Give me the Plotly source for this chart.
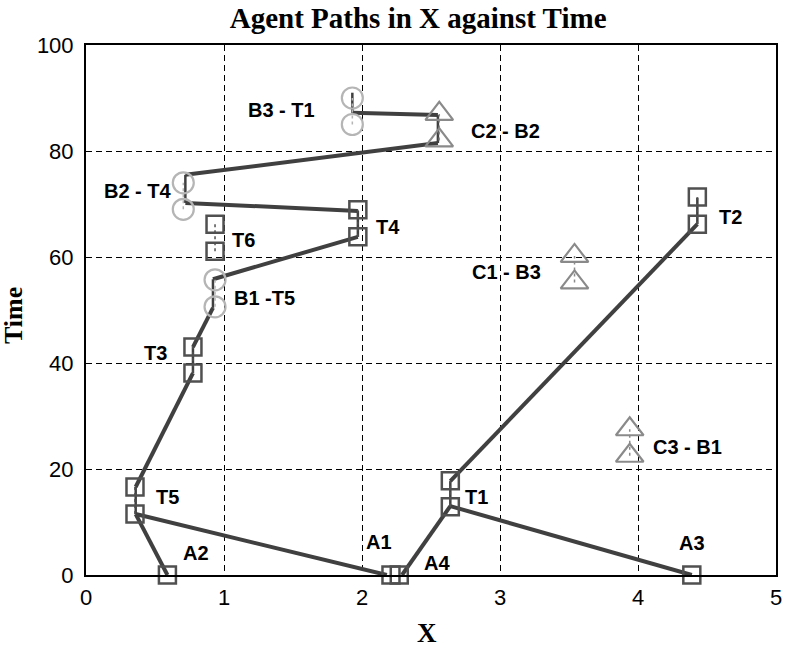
import plotly.graph_objects as go

# ---- depots (start points at time 0) ----
depot_names = ["A1", "A2", "A3", "A4"]
depot_x = [2.21, 0.59, 4.39, 2.27]
depot_t = [0.0, 0.0, 0.0, 0.0]

# ---- task sites: position and [open, close] time window ----
task_names = ["T1", "T2", "T3", "T4", "T5", "T6"]
task_x = [2.64, 4.43, 0.775, 1.97, 0.355, 0.935]
task_open = [12.9, 66.2, 38.1, 63.8, 11.5, 61.1]
task_close = [17.8, 71.3, 43.0, 68.9, 16.6, 66.2]

# ---- B sites (circles) ----
b_names = ["B1 -T5", "B2 - T4", "B3 - T1"]
b_x = [0.935, 0.705, 1.93]
b_open = [50.6, 69.0, 85.0]
b_close = [55.7, 74.0, 90.0]

# ---- C sites (triangles) ----
c_names = ["C1 - B3", "C2 - B2", "C3 - B1"]
c_x = [3.54, 2.56, 3.94]
c_open = [55.2, 82.0, 22.5]
c_close = [60.2, 87.0, 27.5]

# ---- agent paths (x, time) ----
path_a_x = [0.59, 0.36]
path_a_t = [0.0, 11.5]
path_b_x = [2.18, 0.36, 0.36, 0.775, 0.775, 0.92, 0.92, 1.97, 1.97, 0.72, 0.72, 2.55, 2.55, 1.93, 1.93]
path_b_t = [0.0, 11.5, 16.6, 38.1, 43.0, 50.4, 55.8, 63.8, 68.7, 70.2, 75.5, 81.5, 86.8, 87.2, 91.0]
path_c_x = [2.29, 2.64, 2.64, 4.43, 4.43]
path_c_t = [0.0, 13.0, 17.7, 66.2, 71.2]
path_d_x = [4.39, 2.64]
path_d_t = [0.0, 13.0]

# ---- text label anchors ----
label_text = ["A1", "A2", "A3", "A4",
              "T1", "T2", "T3", "T4", "T5", "T6",
              "B1 -T5", "B2 - T4", "B3 - T1",
              "C1 - B3", "C2 - B2", "C3 - B1"]
label_x = [2.12, 0.80, 4.39, 2.54,
           2.83, 4.67, 0.50, 2.19, 0.59, 1.14,
           1.29, 0.38, 1.42,
           3.05, 3.04, 4.36]
label_t = [6.2, 4.2, 6.0, 2.3,
           14.7, 67.5, 41.9, 65.7, 14.7, 63.2,
           52.3, 72.5, 87.7,
           57.2, 83.8, 24.2]

PATH_COLOR = "#404040"
SQUARE_COLOR = "#505050"
CIRCLE_COLOR = "#b5b5b5"
TRIANGLE_COLOR = "#8a8a8a"

fig = go.Figure()


def split_segments(xs, ts):
    """Split a path into travel segments and waiting (vertical) segments."""
    mx, mt, wx, wt = [], [], [], []
    for i in range(len(xs) - 1):
        seg_x = [xs[i], xs[i + 1], None]
        seg_t = [ts[i], ts[i + 1], None]
        if xs[i] == xs[i + 1]:
            wx += seg_x
            wt += seg_t
        else:
            mx += seg_x
            mt += seg_t
    return mx, mt, wx, wt


for px, pt in [(path_a_x, path_a_t), (path_b_x, path_b_t),
               (path_c_x, path_c_t), (path_d_x, path_d_t)]:
    mx, mt, wx, wt = split_segments(px, pt)
    if wx:
        fig.add_trace(go.Scatter(x=wx, y=wt, mode="lines",
                                 line=dict(color=PATH_COLOR, width=2.5),
                                 showlegend=False, hoverinfo="skip", cliponaxis=False))
    fig.add_trace(go.Scatter(x=mx, y=mt, mode="lines",
                             line=dict(color=PATH_COLOR, width=4),
                             showlegend=False, hoverinfo="skip", cliponaxis=False))


def window_lines(xs, t0, t1):
    lx, lt = [], []
    for x, a, b in zip(xs, t0, t1):
        lx += [x, x, None]
        lt += [a, b, None]
    return lx, lt


for xs, t0, t1, col in [(task_x, task_open, task_close, SQUARE_COLOR),
                        (b_x, b_open, b_close, CIRCLE_COLOR),
                        (c_x, c_open, c_close, TRIANGLE_COLOR)]:
    lx, lt = window_lines(xs, t0, t1)
    fig.add_trace(go.Scatter(x=lx, y=lt, mode="lines",
                             line=dict(color=col, width=1.5, dash="dot"),
                             showlegend=False, hoverinfo="skip"))

# square markers: depots and task windows
sq_x = depot_x + task_x + task_x
sq_t = depot_t + task_open + task_close
fig.add_trace(go.Scatter(x=sq_x, y=sq_t, mode="markers", cliponaxis=False,
                         marker=dict(symbol="square-open", size=17,
                                     line=dict(color=SQUARE_COLOR, width=2.5),
                                     color=SQUARE_COLOR),
                         showlegend=False))

fig.add_trace(go.Scatter(x=b_x + b_x, y=b_open + b_close, mode="markers",
                         marker=dict(symbol="circle-open", size=21,
                                     line=dict(color=CIRCLE_COLOR, width=2.2),
                                     color=CIRCLE_COLOR),
                         showlegend=False))

fig.add_trace(go.Scatter(x=c_x + c_x, y=c_open + c_close, mode="markers",
                         marker=dict(symbol="triangle-up-open", size=24,
                                     line=dict(color=TRIANGLE_COLOR, width=2.2),
                                     color=TRIANGLE_COLOR),
                         showlegend=False))

for txt, x, t in zip(label_text, label_x, label_t):
    fig.add_annotation(x=x, y=t, xref="x", yref="y", text=txt, showarrow=False,
                       font=dict(family="Liberation Sans", size=20, color="black",
                                 weight="bold"))

# axis titles
fig.add_annotation(x=0.494, y=-0.109, xref="paper", yref="paper", text="X",
                   showarrow=False, xanchor="center", yanchor="middle",
                   font=dict(family="Liberation Serif", size=27, color="black", weight="bold"))
fig.add_annotation(x=-0.104, y=0.489, xref="paper", yref="paper", text="Time",
                   showarrow=False, xanchor="center", yanchor="middle", textangle=-90,
                   font=dict(family="Liberation Serif", size=26, color="black", weight="bold"))

axis_common = dict(showline=True, linecolor="black", linewidth=2, mirror=True,
                   showgrid=True, gridcolor="black", gridwidth=1.3, griddash="6px,4px",
                   zeroline=False, ticks="", automargin=False,
                   tickfont=dict(family="Liberation Sans", size=22, color="black"))

fig.update_layout(
    width=786, height=648,
    margin=dict(l=86, r=10, t=45, b=73, autoexpand=False),
    paper_bgcolor="white", plot_bgcolor="white",
    title=dict(text="Agent Paths in X against Time", x=0.532, xref="container",
               y=1 - 18 / 648, yref="container", xanchor="center", yanchor="middle",
               font=dict(family="Liberation Serif", size=29, color="black", weight="bold")),
    xaxis=dict(range=[0, 5], tickvals=[0, 1, 2, 3, 4, 5], ticklabelstandoff=2, **axis_common),
    yaxis=dict(range=[0, 100], tickvals=[0, 20, 40, 60, 80, 100], ticklabelstandoff=6, **axis_common),
)

fig.write_html("out.html")
